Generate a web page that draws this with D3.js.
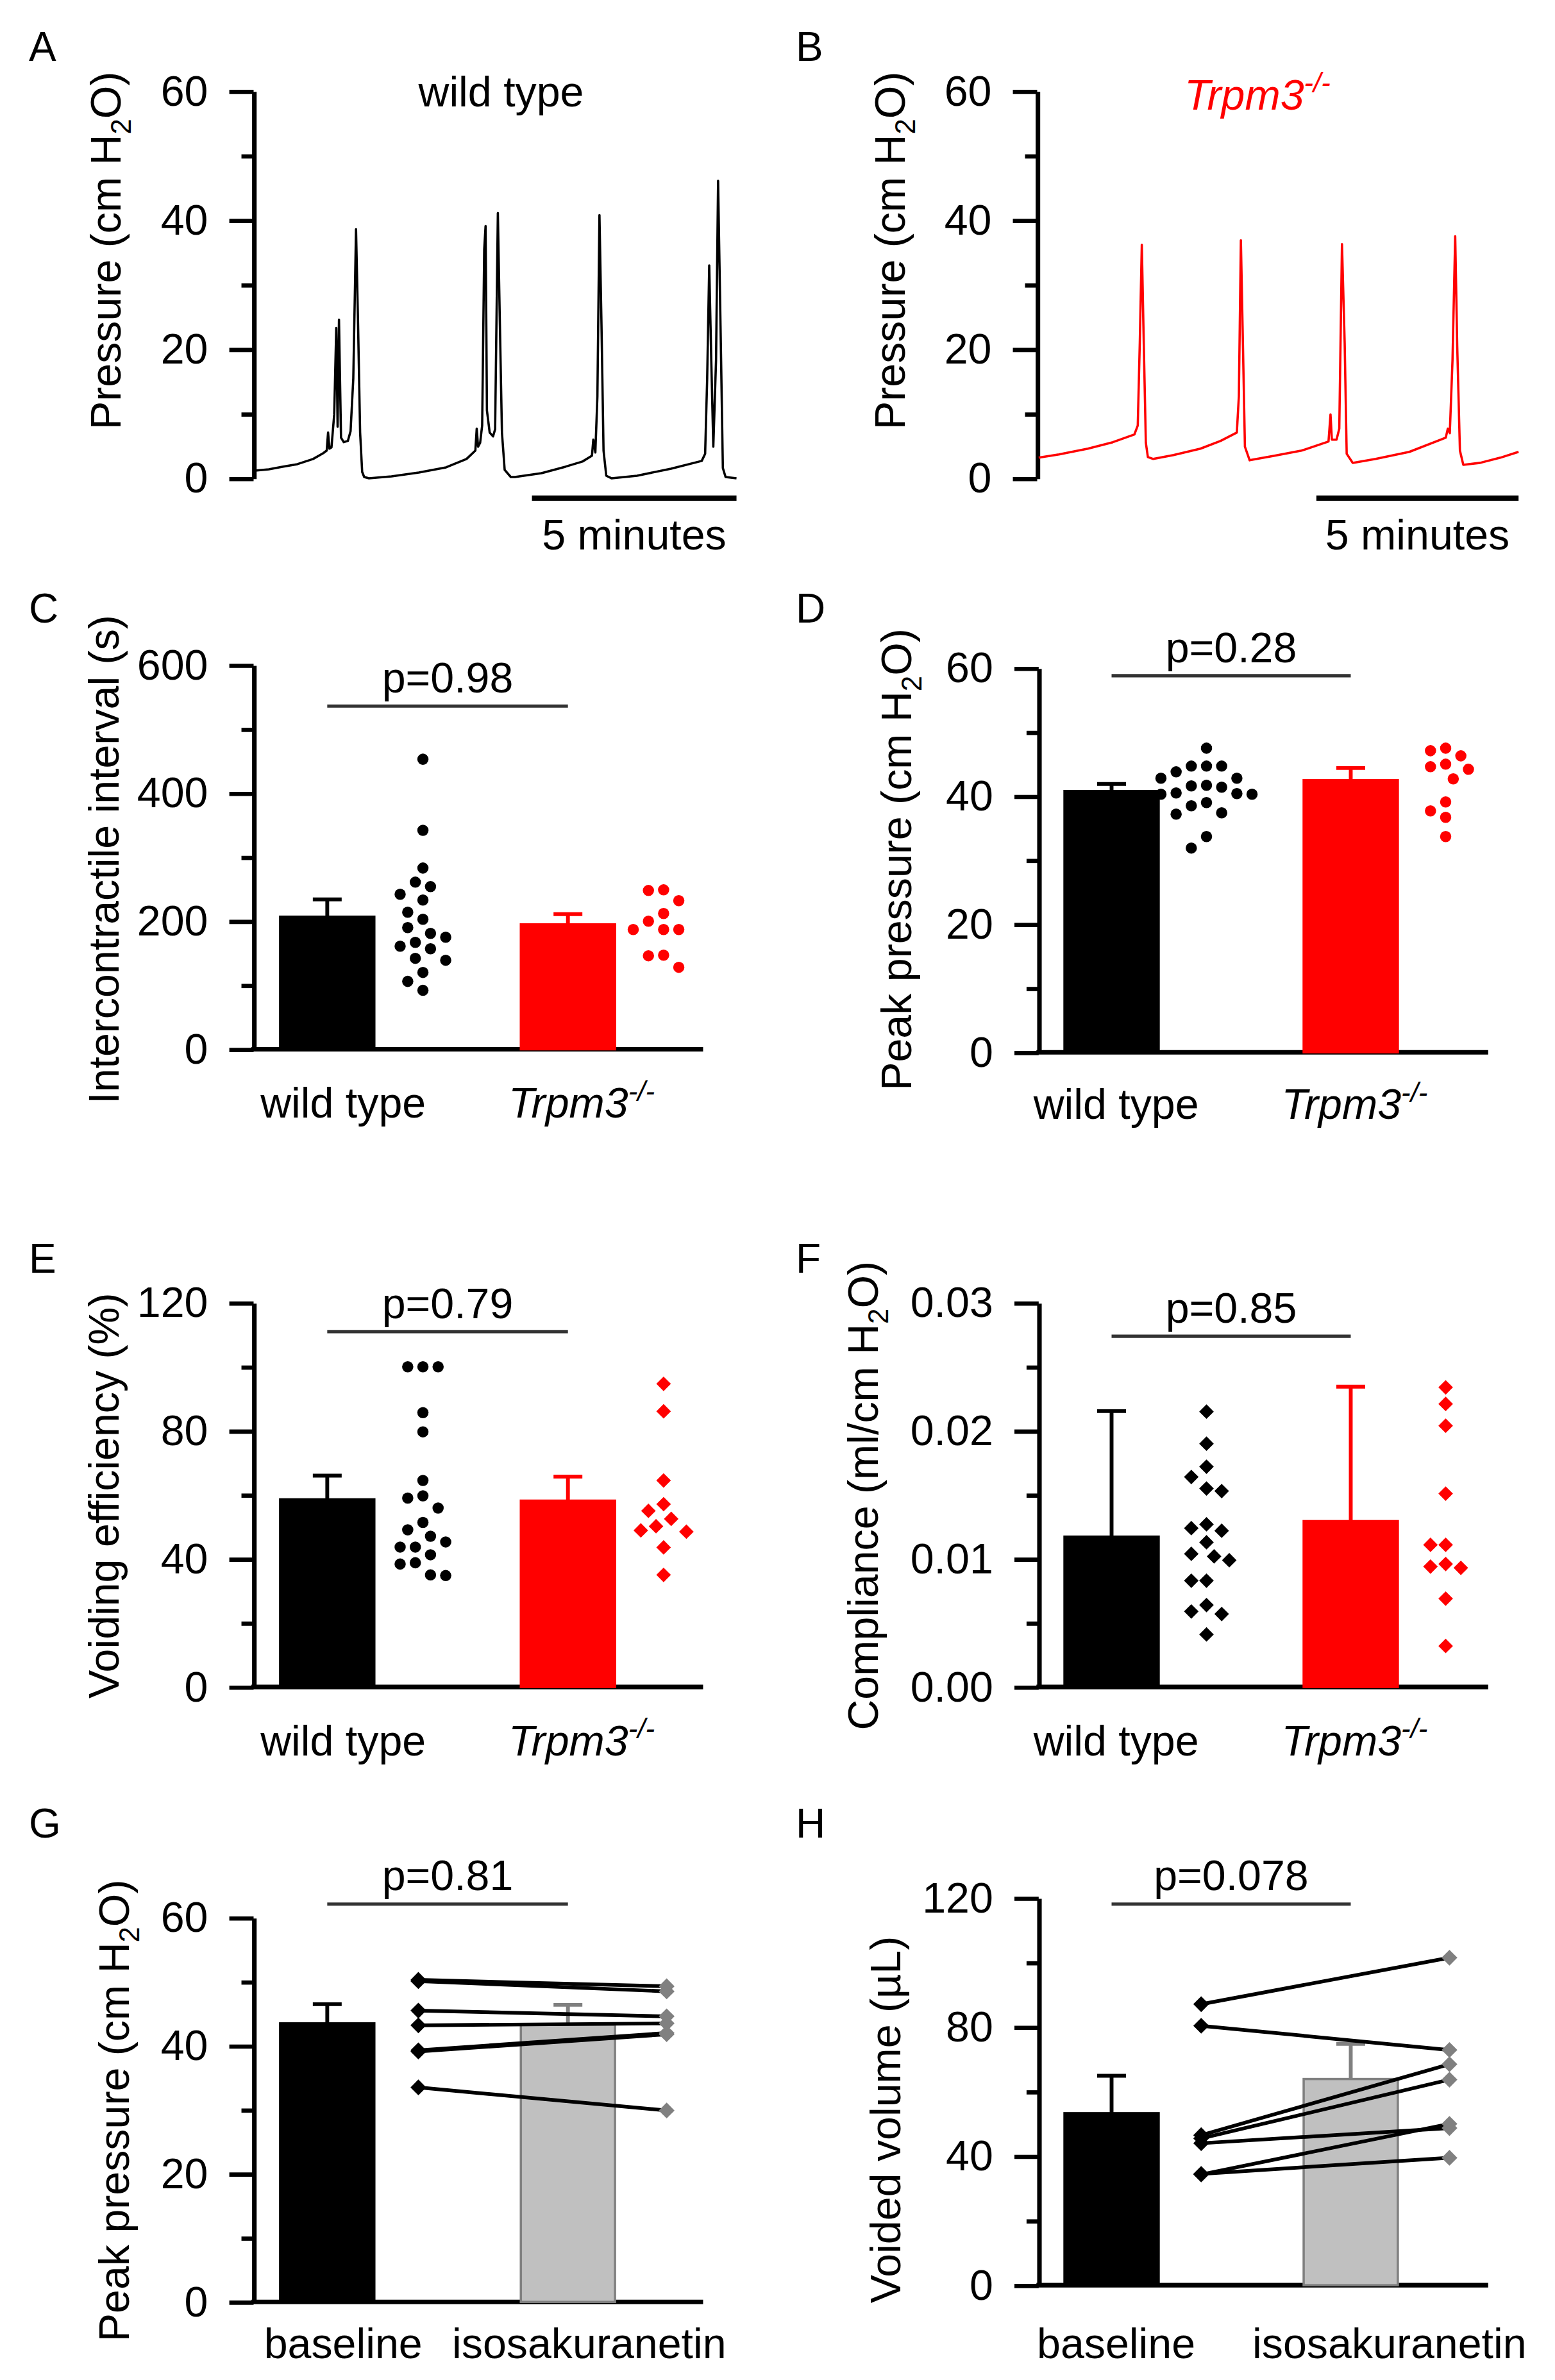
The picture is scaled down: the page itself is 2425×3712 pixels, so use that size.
<!DOCTYPE html>
<html>
<head>
<meta charset="utf-8">
<script src="https://cdn.jsdelivr.net/npm/d3@7"></script>
<style>
  body { margin: 0; background: #fff; }
  svg { display: block; }
</style>
</head>
<body>
<script>
// ---------- data ----------

// cystometry traces, [time (s), pressure (cm H2O)]
var traceWT = [[0,1.2],[20,1.4],[40,1.8],[62,2.2],[85,3.0],[100,3.9],[105,4.3],[107,7.1],[109,4.6],[112,4.8],
  [116,9.9],[119,23.3],[121,8.0],[123,24.6],[126,6.3],[130,5.6],[136,5.8],[140,7.3],[144,15.5],[148,38.6],
  [151,23.8],[154,7.1],[157,1.0],[160,0.2],[167,0],[200,0.3],[240,0.9],[280,1.7],[310,3.0],[323,4.3],
  [325,7.7],[327,4.9],[330,5.5],[333,8.2],[336,35.5],[338,39.1],[340,10.5],[344,7.1],[349,6.5],[352,7.6],
  [356,41.1],[359,23.8],[362,7.1],[366,1.3],[375,0.2],[381,0.2],[420,0.8],[455,1.8],[480,2.6],[494,3.5],
  [496,6.0],[499,4.0],[502,12.7],[505,40.8],[508,23.8],[511,4.3],[515,0.4],[523,0],[560,0.4],[610,1.5],
  [655,2.7],[660,3.8],[663,15.5],[666,33.0],[669,18.3],[672,4.9],[676,18.3],[679,46.1],[683,21.0],[686,1.6],
  [690,0.2],[706,0]];
var traceKO = [[0,3.2],[30,3.7],[73,4.6],[110,5.6],[142,6.8],[147,8.2],[150,21],[153,36.2],[156,20.5],[159,5.5],
  [162,3.3],[170,3.0],[200,3.6],[240,4.6],[270,5.8],[294,7.1],[297,12.7],[300,36.9],[303,21],[306,4.9],
  [313,2.8],[350,3.5],[390,4.3],[430,5.7],[433,9.9],[435,6.0],[442,6.0],[446,7.7],[450,36.3],[454,21],
  [457,3.8],[466,2.4],[500,3.0],[550,4.1],[604,6.3],[607,7.7],[610,7.0],[614,18.3],[618,37.5],[621,20.5],
  [625,4.3],[630,2.1],[655,2.4],[685,3.2],[712,4.1]];
var traceEndWT = 706, traceEndKO = 712, scaleBarSeconds = 300;

// C intercontractile interval (s)
var intervalWT = [453,342,283,261,254,242,233,214,203,190,181,175,167,161,157,142,139,120,106,92];
var intervalKO = [249,248,232,212,200,187,187,187,147,146,128];
var intervalMean = [207, 195], intervalErr = [27, 16];

// D peak pressure (cm H2O)
var peakWT = [47.5,44.7,44.7,44.7,43.8,42.8,42.8,41.7,41.6,41.4,40.5,40.4,40.3,40.3,39.0,38.5,37.4,37.2,33.7,31.9];
var peakKO = [47.5,47.1,46.3,45.0,44.6,44.2,42.7,39.1,37.7,36.7,33.7];
var peakMean = [40.8, 42.5], peakErr = [1.1, 1.9];

// E voiding efficiency (%)
var effWT = [100,100,100,85.7,79.7,64.5,59.7,59.0,55.9,51.4,49.1,47.1,45.3,43.7,43.7,41.3,38.8,38.4,35.0,34.8];
var effKO = [94.7,86.1,64.5,57.1,55.0,52.5,50.2,48.9,48.5,43.6,35.0];
var effMean = [58.6, 58.2], effErr = [7.4, 7.5];

// F compliance (ml/cm H2O)
var compWT = [0.0215,0.0190,0.0172,0.0164,0.0155,0.0153,0.0127,0.0124,0.0122,0.0113,0.0104,0.0102,0.0099,
  0.0083,0.0083,0.0064,0.0059,0.0057,0.0041];
var compKO = [0.0234,0.0221,0.0204,0.0151,0.0111,0.0111,0.0096,0.0094,0.0093,0.0069,0.0032];
var compMean = [0.01174, 0.01295], compErr = [0.0098, 0.0105];

// G peak pressure, paired baseline -> isosakuranetin
var pairPeakBase = [50.3,50.1,45.5,43.2,39.1,39.3,33.5];
var pairPeakIso  = [49.3,48.5,44.6,43.5,41.8,42.0,29.9];
var pairPeakMean = [43.5, 43.3], pairPeakErr = [3.0, 3.1];

// H voided volume (uL), paired
var volBase = [87.1,80.4,46.5,45.5,44.0,34.3,34.5];
var volIso  = [101.5,72.9,68.5,63.7,48.7,50.0,39.5];
var volMean = [53.3, 63.9], volErr = [11.6, 10.9];

var pValues = ["p=0.98", "p=0.28", "p=0.79", "p=0.85", "p=0.81", "p=0.078"];

var ticksPressure = [0, 20, 40, 60], minorPressure = [10, 30, 50];
var ticksInterval = [0, 200, 400, 600], minorInterval = [100, 300, 500];
var ticksEff = [0, 40, 80, 120], minorEff = [20, 60, 100];
var ticksComp = [0, 0.01, 0.02, 0.03], minorComp = [0.005, 0.015, 0.025];
var ticksVol = [0, 40, 80, 120], minorVol = [20, 60, 100];

var genotypeLabels = [[{t: "wild type"}], [{t: "Trpm3", italic: true}, {t: "-/-", sup: true, italic: true}]];
var treatmentLabels = [[{t: "baseline"}], [{t: "isosakuranetin"}]];

// ---------- drawing ----------

var FONT = "'Liberation Sans', Arial, Helvetica, sans-serif";
var FS = 28;
var RED = "#ff0000", GREY = "#c0c0c0", DGREY = "#808080";

var svg = d3.select("body").append("svg")
    .attr("width", 2425)
    .attr("height", 3712)
    .attr("viewBox", "0 0 1024 1567.4")
    .attr("font-family", FONT);

svg.append("rect").attr("width", 1024).attr("height", 1567.4).attr("fill", "#fff");

function richText(sel, parts, size) {
    var shift = 0;
    parts.forEach(function (p) {
        var target = p.sub ? size * 0.24 : (p.sup ? -size * 0.4 : 0);
        var ts = sel.append("tspan").text(p.t);
        if (p.sub || p.sup) ts.attr("font-size", size * 0.66);
        if (p.italic) ts.attr("font-style", "italic");
        if (target !== shift) ts.attr("dy", target - shift);
        shift = target;
    });
    return sel;
}

function letter(t, x, y) {
    svg.append("text").attr("x", x).attr("y", y).attr("font-size", 27).text(t);
}

function yLabel(parts, cx, cy) {
    var t = svg.append("text")
        .attr("transform", "translate(" + (cx + 10) + "," + cy + ") rotate(-90)")
        .attr("text-anchor", "middle")
        .attr("font-size", FS);
    richText(t, parts, FS);
}

function yAxis(y, ox, major, minor, fmt) {
    var ax = svg.append("g")
        .attr("transform", "translate(" + ox + ",0)")
        .call(d3.axisLeft(y).tickValues(major).tickSize(16).tickSizeOuter(0).tickPadding(14).tickFormat(fmt));
    ax.attr("font-size", null).attr("font-family", null);
    ax.select(".domain").attr("stroke", "#000").attr("stroke-width", 3);
    ax.selectAll(".tick line").attr("stroke", "#000").attr("stroke-width", 2.8);
    ax.selectAll(".tick text").attr("font-size", FS).attr("fill", "#000");

    var mi = svg.append("g")
        .attr("transform", "translate(" + ox + ",0)")
        .call(d3.axisLeft(y).tickValues(minor).tickSize(8).tickFormat(""));
    mi.select(".domain").remove();
    mi.selectAll(".tick line").attr("stroke", "#000").attr("stroke-width", 2.8);
}

function swarm(vals, y, cx, minDist, step) {
    var placed = [];
    vals.forEach(function (v) {
        var py = y(v), off = 0;
        for (var k = 0; k < 40; k++) {
            off = (k % 2 ? -1 : 1) * Math.ceil(k / 2) * step;
            var ok = placed.every(function (p) {
                var dx = p.x - (cx + off), dy = p.y - py;
                return dx * dx + dy * dy >= minDist * minDist;
            });
            if (ok) break;
        }
        placed.push({x: cx + off, y: py, v: v});
    });
    return placed;
}

function diamond(r) {
    return "M0," + (-r) + "L" + r + ",0L0," + r + "L" + (-r) + ",0Z";
}

function tracePanel(o) {
    var y = d3.scaleLinear().domain([0, 60]).range([o.bot, o.top]);
    var x = d3.scaleLinear().domain([0, o.tEnd]).range([o.ox + 1, o.right]);

    yAxis(y, o.ox, ticksPressure, minorPressure, d3.format("d"));

    svg.append("path")
        .datum(o.data)
        .attr("d", d3.line().x(function (d) { return x(d[0]); }).y(function (d) { return y(d[1]); }))
        .attr("fill", "none")
        .attr("stroke", o.color)
        .attr("stroke-width", 1.5)
        .attr("stroke-linejoin", "round");

    svg.append("line")
        .attr("x1", x(o.tEnd - scaleBarSeconds)).attr("x2", x(o.tEnd))
        .attr("y1", o.barY).attr("y2", o.barY)
        .attr("stroke", "#000").attr("stroke-width", 3.5);
    svg.append("text")
        .attr("x", (x(o.tEnd - scaleBarSeconds) + x(o.tEnd)) / 2).attr("y", o.barY + 34)
        .attr("text-anchor", "middle").attr("font-size", FS)
        .text("5 minutes");

    var title = svg.append("text")
        .attr("x", o.titleX).attr("y", o.titleY)
        .attr("text-anchor", "middle").attr("font-size", FS)
        .attr("fill", o.color);
    richText(title, o.title, FS);

    yLabel([{t: "Pressure (cm H"}, {t: "2", sub: true}, {t: "O)"}], o.ylabX, o.ylabY);
    letter(o.letter, o.letterX, o.letterY);
}

function frame(o) {
    var y = d3.scaleLinear().domain([0, o.yMax]).range([o.bot, o.top]);
    var x = d3.scalePoint().domain([0, 1]).range([o.ox + o.c0, o.ox + o.c1]);

    yAxis(y, o.ox, o.major, o.minor, o.fmt);

    svg.append("line")
        .attr("x1", o.ox - 1.5).attr("x2", o.ox + 296)
        .attr("y1", y(0)).attr("y2", y(0))
        .attr("stroke", "#000").attr("stroke-width", 3);

    // significance line
    svg.append("line")
        .attr("x1", x(0)).attr("x2", x(1))
        .attr("y1", o.pY).attr("y2", o.pY)
        .attr("stroke", "#333").attr("stroke-width", 2.2);
    svg.append("text")
        .attr("x", (x(0) + x(1)) / 2).attr("y", o.pY - 9)
        .attr("text-anchor", "middle").attr("font-size", FS)
        .text(o.p);

    // category labels
    o.cats.forEach(function (parts, i) {
        var t = svg.append("text")
            .attr("x", x(i) + o.labOff[i]).attr("y", o.xlabY)
            .attr("text-anchor", "middle").attr("font-size", FS);
        richText(t, parts, FS);
    });

    yLabel(o.ylab, o.ylabX, o.ylabY);
    letter(o.letter, o.letterX, o.letterY);
    return {x: x, y: y};
}

function bars(s, o) {
    [0, 1].forEach(function (i) {
        var cx = s.x(i), top = s.y(o.means[i]);
        svg.append("rect")
            .attr("x", cx - 31).attr("y", top)
            .attr("width", 62).attr("height", s.y(0) - top)
            .attr("fill", o.fills[i]).attr("stroke", o.strokes[i]).attr("stroke-width", 1.5);
        var et = s.y(o.means[i] + o.errs[i]);
        svg.append("line").attr("x1", cx).attr("x2", cx).attr("y1", top).attr("y2", et)
            .attr("stroke", o.strokes[i]).attr("stroke-width", 2.5);
        svg.append("line").attr("x1", cx - 9.5).attr("x2", cx + 9.5).attr("y1", et).attr("y2", et)
            .attr("stroke", o.strokes[i]).attr("stroke-width", 2.5);
    });
}

function barDotPanel(o) {
    var s = frame(o);
    bars(s, o);
    o.groups.forEach(function (vals, i) {
        var pts = swarm(vals, s.y, s.x(i) + o.dotOff, 10, 5);
        if (o.shapes[i] === "circle") {
            svg.append("g").selectAll("circle").data(pts).enter().append("circle")
                .attr("cx", function (d) { return d.x; })
                .attr("cy", function (d) { return d.y; })
                .attr("r", 3.7)
                .attr("fill", o.fills[i]);
        } else {
            svg.append("g").selectAll("path").data(pts).enter().append("path")
                .attr("transform", function (d) { return "translate(" + d.x + "," + d.y + ")"; })
                .attr("d", diamond(4.8))
                .attr("fill", o.fills[i]);
        }
    });
}

function pairedPanel(o) {
    var s = frame(o);
    bars(s, o);
    var xa = s.x(0) + o.pairOff[0], xb = s.x(1) + o.pairOff[1];
    var pairs = o.before.map(function (v, i) { return [v, o.after[i]]; });
    var g = svg.append("g");
    g.selectAll("line").data(pairs).enter().append("line")
        .attr("x1", xa).attr("x2", xb)
        .attr("y1", function (d) { return s.y(d[0]); })
        .attr("y2", function (d) { return s.y(d[1]); })
        .attr("stroke", "#000").attr("stroke-width", 2.4);
    g.selectAll("path.b").data(o.before).enter().append("path").attr("class", "b")
        .attr("transform", function (d) { return "translate(" + xa + "," + s.y(d) + ")"; })
        .attr("d", diamond(5.2)).attr("fill", "#000");
    g.selectAll("path.a").data(o.after).enter().append("path").attr("class", "a")
        .attr("transform", function (d) { return "translate(" + xb + "," + s.y(d) + ")"; })
        .attr("d", diamond(5.2)).attr("fill", DGREY);
}

// A, B traces
tracePanel({ox: 167, top: 60, bot: 315, right: 485, tEnd: traceEndWT, data: traceWT, color: "#000",
    barY: 328, title: [{t: "wild type"}], titleX: 330, titleY: 70,
    ylabX: 69.5, ylabY: 165, letter: "A", letterX: 19, letterY: 40});
tracePanel({ox: 683, top: 60, bot: 315, right: 1000, tEnd: traceEndKO, data: traceKO, color: RED,
    barY: 328, title: [{t: "Trpm3", italic: true}, {t: "-/-", sup: true, italic: true}], titleX: 828, titleY: 72,
    ylabX: 586, ylabY: 165, letter: "B", letterX: 524, letterY: 40});

var leftCol = {ox: 167, c0: 48.5, c1: 207, dotOff: 63};
var rightCol = {ox: 684, c0: 48, c1: 205.5, dotOff: 62.5};

// C
barDotPanel({ox: leftCol.ox, c0: leftCol.c0, c1: leftCol.c1, dotOff: leftCol.dotOff,
    top: 438, bot: 691, yMax: 600, major: ticksInterval, minor: minorInterval, fmt: d3.format("d"),
    means: intervalMean, errs: intervalErr, groups: [intervalWT, intervalKO],
    fills: ["#000", RED], strokes: ["#000", RED], shapes: ["circle", "circle"],
    p: pValues[0], pY: 465, cats: genotypeLabels, labOff: [10.5, 9], xlabY: 736,
    ylab: [{t: "Intercontractile interval (s)"}], ylabX: 68, ylabY: 566,
    letter: "C", letterX: 19, letterY: 410});

// D
barDotPanel({ox: rightCol.ox, c0: rightCol.c0, c1: rightCol.c1, dotOff: rightCol.dotOff,
    top: 440, bot: 693, yMax: 60, major: ticksPressure, minor: minorPressure, fmt: d3.format("d"),
    means: peakMean, errs: peakErr, groups: [peakWT, peakKO],
    fills: ["#000", RED], strokes: ["#000", RED], shapes: ["circle", "circle"],
    p: pValues[1], pY: 445, cats: genotypeLabels, labOff: [3, 2.5], xlabY: 737,
    ylab: [{t: "Peak pressure (cm H"}, {t: "2", sub: true}, {t: "O)"}], ylabX: 590, ylabY: 566,
    letter: "D", letterX: 524, letterY: 410});

// E
barDotPanel({ox: leftCol.ox, c0: leftCol.c0, c1: leftCol.c1, dotOff: leftCol.dotOff,
    top: 858, bot: 1111, yMax: 120, major: ticksEff, minor: minorEff, fmt: d3.format("d"),
    means: effMean, errs: effErr, groups: [effWT, effKO],
    fills: ["#000", RED], strokes: ["#000", RED], shapes: ["circle", "diamond"],
    p: pValues[2], pY: 877, cats: genotypeLabels, labOff: [10.5, 9], xlabY: 1156,
    ylab: [{t: "Voiding efficiency (%)"}], ylabX: 68, ylabY: 985,
    letter: "E", letterX: 19, letterY: 838});

// F
barDotPanel({ox: rightCol.ox, c0: rightCol.c0, c1: rightCol.c1, dotOff: rightCol.dotOff,
    top: 858, bot: 1111, yMax: 0.03, major: ticksComp, minor: minorComp, fmt: d3.format(".2f"),
    means: compMean, errs: compErr, groups: [compWT, compKO],
    fills: ["#000", RED], strokes: ["#000", RED], shapes: ["diamond", "diamond"],
    p: pValues[3], pY: 880, cats: genotypeLabels, labOff: [3, 2.5], xlabY: 1156,
    ylab: [{t: "Compliance (ml/cm H"}, {t: "2", sub: true}, {t: "O)"}], ylabX: 568, ylabY: 985,
    letter: "F", letterX: 524, letterY: 838});

// G
pairedPanel({ox: leftCol.ox, c0: leftCol.c0, c1: leftCol.c1, pairOff: [60, 65],
    top: 1263, bot: 1516, yMax: 60, major: ticksPressure, minor: minorPressure, fmt: d3.format("d"),
    means: pairPeakMean, errs: pairPeakErr, before: pairPeakBase, after: pairPeakIso,
    fills: ["#000", GREY], strokes: ["#000", DGREY],
    p: pValues[4], pY: 1254, cats: treatmentLabels, labOff: [10.5, 14], xlabY: 1553,
    ylab: [{t: "Peak pressure (cm H"}, {t: "2", sub: true}, {t: "O)"}], ylabX: 75, ylabY: 1390,
    letter: "G", letterX: 19, letterY: 1210});

// H
pairedPanel({ox: rightCol.ox, c0: rightCol.c0, c1: rightCol.c1, pairOff: [59, 65],
    top: 1250, bot: 1505, yMax: 120, major: ticksVol, minor: minorVol, fmt: d3.format("d"),
    means: volMean, errs: volErr, before: volBase, after: volIso,
    fills: ["#000", GREY], strokes: ["#000", DGREY],
    p: pValues[5], pY: 1254, cats: treatmentLabels, labOff: [3, 25.5], xlabY: 1553,
    ylab: [{t: "Voided volume (\u00b5L)"}], ylabX: 583, ylabY: 1396,
    letter: "H", letterX: 524, letterY: 1210});
</script>
</body>
</html>
